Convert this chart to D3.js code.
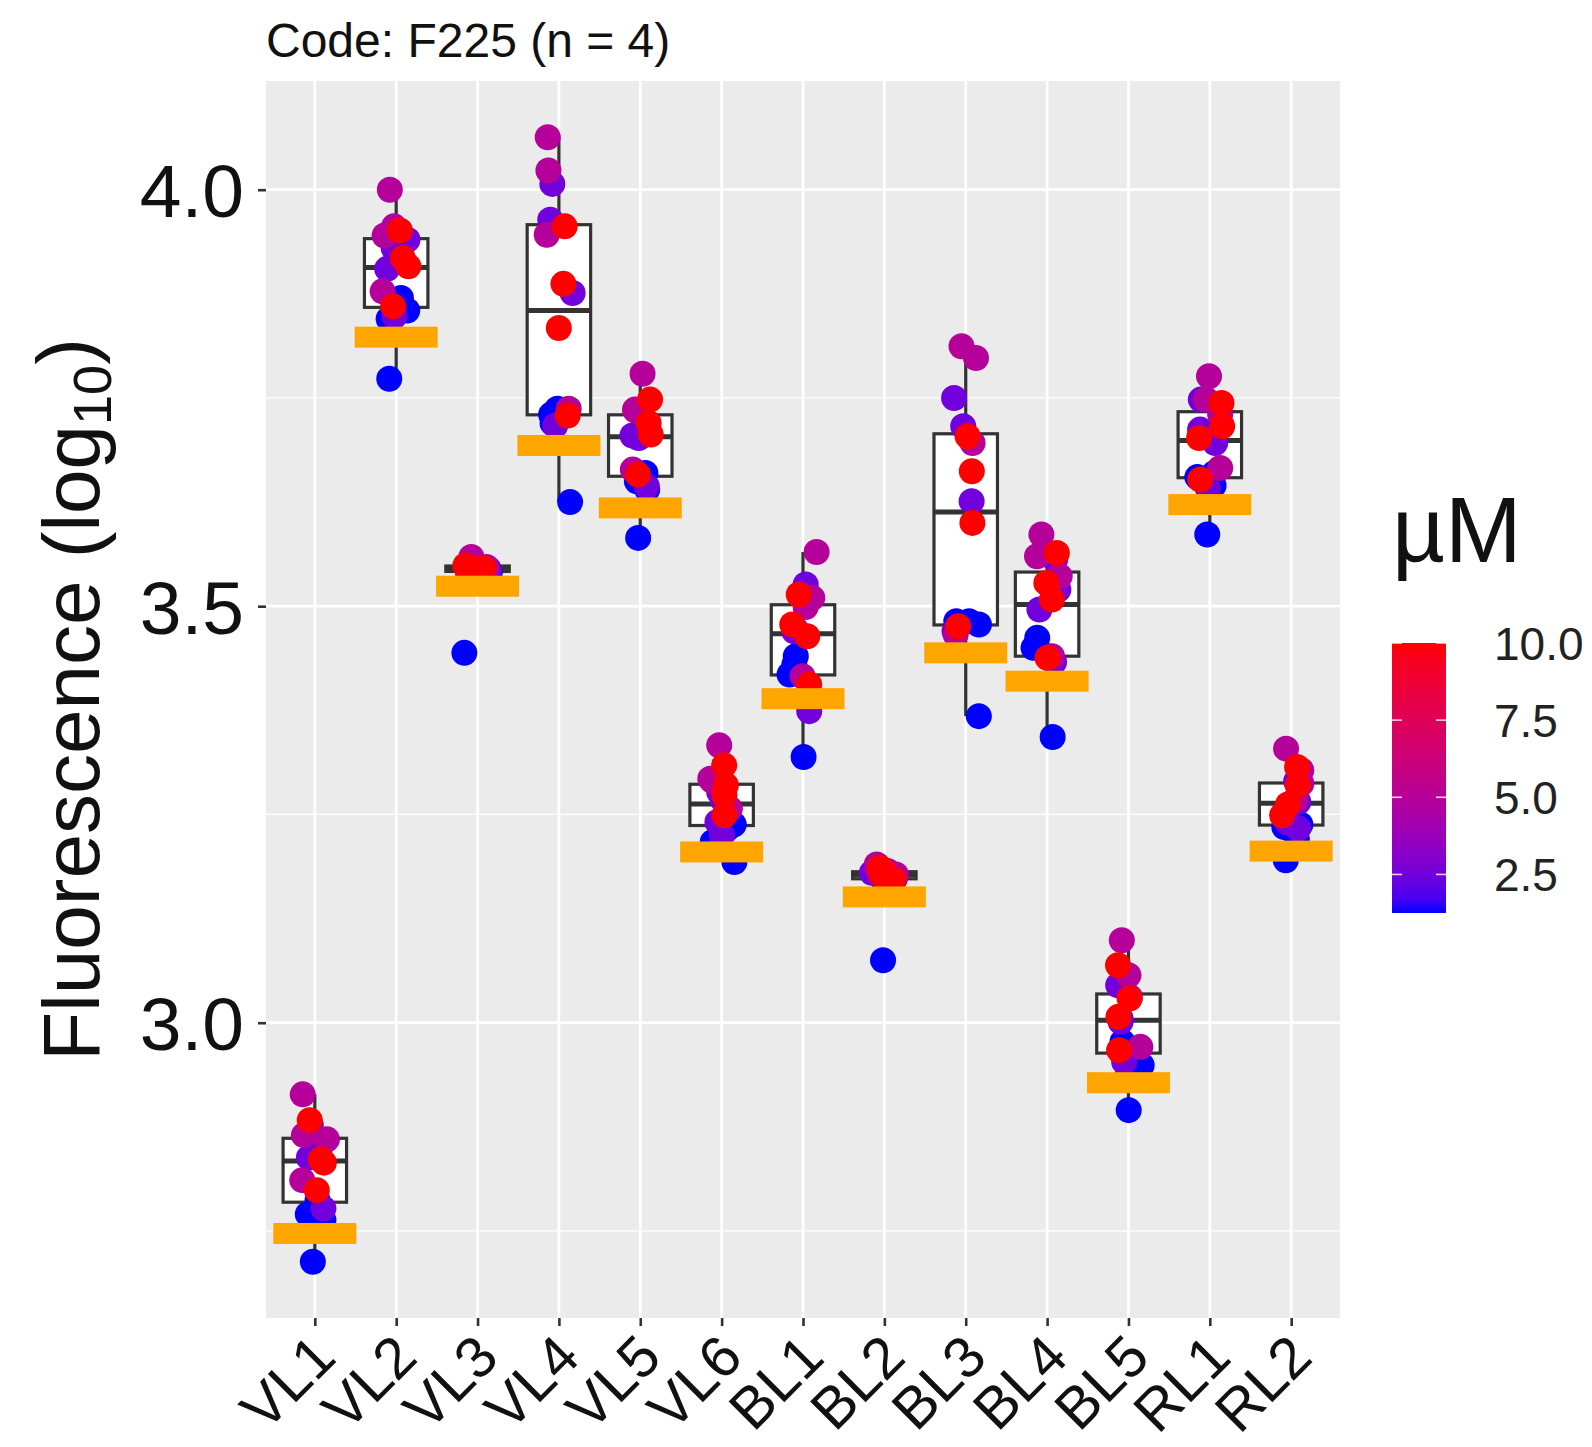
<!DOCTYPE html>
<html>
<head>
<meta charset="utf-8">
<script src="https://cdn.jsdelivr.net/npm/d3@7"></script>
<style>
  html, body { margin: 0; padding: 0; background: #fff; }
  text { font-family: "Liberation Sans", Arial, Helvetica, sans-serif; }
</style>
</head>
<body>
<div id="chart"></div>
<script>
// categories (detector channels) and the four concentrations (µM)
const categories = ["VL1", "VL2", "VL3", "VL4", "VL5", "VL6", "BL1", "BL2", "BL3", "BL4", "BL5", "RL1", "RL2"];
const concLevels = [1.25, 2.5, 5, 10];

// log10 fluorescence, 4 replicates per channel, one array per concentration
const at1_25uM = [
  [2.713, 2.763, 2.770, 2.787], [3.773, 3.845, 3.855, 3.870], [3.444, 3.540, 3.542, 3.545],
  [3.625, 3.720, 3.730, 3.737], [3.582, 3.640, 3.650, 3.660], [3.193, 3.217, 3.233, 3.238],
  [3.319, 3.418, 3.430, 3.440], [3.075, 3.170, 3.172, 3.175], [3.368, 3.478, 3.482, 3.482],
  [3.343, 3.440, 3.450, 3.462], [2.895, 2.935, 2.949, 2.977], [3.586, 3.645, 3.655, 3.660],
  [3.195, 3.220, 3.235, 3.238]
];
const at2_5uM = [
  [2.777, 2.838, 2.845, 2.877], [3.848, 3.905, 3.930, 3.940], [3.541, 3.543, 3.548, 3.550],
  [3.717, 3.876, 3.964, 4.007], [3.644, 3.702, 3.705, 3.728], [3.225, 3.241, 3.268, 3.277],
  [3.374, 3.470, 3.472, 3.526], [3.173, 3.176, 3.178, 3.180], [3.470, 3.626, 3.716, 3.750],
  [3.433, 3.496, 3.520, 3.556], [2.953, 3.001, 3.005, 3.045], [3.642, 3.696, 3.712, 3.748],
  [3.233, 3.240, 3.265, 3.290]
];
const at5uM = [
  [2.811, 2.860, 2.865, 2.914], [3.878, 3.945, 3.956, 4.000], [3.545, 3.547, 3.552, 3.559],
  [3.737, 3.946, 4.023, 4.063], [3.664, 3.735, 3.736, 3.779], [3.257, 3.290, 3.293, 3.333],
  [3.416, 3.499, 3.510, 3.565], [3.178, 3.182, 3.185, 3.190], [3.466, 3.696, 3.798, 3.812],
  [3.440, 3.536, 3.560, 3.586], [2.971, 3.031, 3.057, 3.099], [3.666, 3.730, 3.748, 3.776],
  [3.268, 3.287, 3.303, 3.329]
];
const at10uM = [
  [2.799, 2.832, 2.836, 2.883], [3.860, 3.908, 3.918, 3.951], [3.540, 3.544, 3.546, 3.549],
  [3.729, 3.834, 3.887, 3.956], [3.658, 3.706, 3.720, 3.748], [3.249, 3.273, 3.285, 3.309],
  [3.406, 3.464, 3.478, 3.514], [3.172, 3.177, 3.181, 3.186], [3.476, 3.600, 3.662, 3.704],
  [3.438, 3.508, 3.528, 3.564], [2.967, 3.007, 3.029, 3.069], [3.652, 3.702, 3.716, 3.744],
  [3.249, 3.262, 3.285, 3.307]
];
// orange reference level per channel
const referenceLevel = [2.747, 3.823, 3.524, 3.693, 3.618, 3.205, 3.389, 3.151, 3.444, 3.410, 2.928, 3.622, 3.206];

const yTicks = [3.0, 3.5, 4.0];
const yMinor = [2.75, 3.25, 3.75];
const legendTicks = [2.5, 5.0, 7.5, 10.0];
const titleText = "Code: F225 (n = 4)";

/* svg setup */
const width = 1592, height = 1447;
const margin = { top: 81, right: 252, bottom: 129, left: 266 };
const plotW = width - margin.left - margin.right;
const plotH = height - margin.top - margin.bottom;

const svg = d3.select("#chart").append("svg")
  .attr("width", width)
  .attr("height", height);

svg.append("rect").attr("width", width).attr("height", height).attr("fill", "#fff");

const g = svg.append("g").attr("transform", `translate(${margin.left},${margin.top})`);

// long table
const bySeries = [at1_25uM, at2_5uM, at5uM, at10uM];
const points = [];
bySeries.forEach((series, ci) => {
  series.forEach((reps, k) => {
    reps.forEach(v => points.push({ cat: categories[k], conc: concLevels[ci], value: v }));
  });
});

/*
 * scales
 */
const x = d3.scalePoint().domain(categories).range([0, plotW]).padding(0.6);
const step = x.step();

const allVals = points.map(d => d.value);
const lo = d3.min(allVals), hi = d3.max(allVals);
const pad = (hi - lo) * 0.05;
const y = d3.scaleLinear().domain([lo - pad, hi + pad]).range([plotH, 0]);

const color = d3.scaleLinear()
  .domain(d3.extent(concLevels))
  .range(["blue", "red"])
  .interpolate(d3.interpolateLab);

/* panel + grid */
g.append("rect").attr("width", plotW).attr("height", plotH).attr("fill", "#EBEBEB");

g.selectAll(".minor").data(yMinor).join("line")
  .attr("x1", 0).attr("x2", plotW)
  .attr("y1", d => y(d)).attr("y2", d => y(d))
  .attr("stroke", "#fff").attr("stroke-width", 1.3);

g.selectAll(".major-y").data(yTicks).join("line")
  .attr("x1", 0).attr("x2", plotW)
  .attr("y1", d => y(d)).attr("y2", d => y(d))
  .attr("stroke", "#fff").attr("stroke-width", 2.7);

g.selectAll(".major-x").data(categories).join("line")
  .attr("x1", d => x(d)).attr("x2", d => x(d))
  .attr("y1", 0).attr("y2", plotH)
  .attr("stroke", "#fff").attr("stroke-width", 2.7);

/* boxplots */
const boxW = step * 0.78;
const stats = categories.map(cat => {
  const vals = points.filter(p => p.cat === cat).map(p => p.value).sort(d3.ascending);
  const q1 = d3.quantile(vals, 0.25), med = d3.quantile(vals, 0.5), q3 = d3.quantile(vals, 0.75);
  const iqr = q3 - q1;
  const lowW = d3.min(vals.filter(v => v >= q1 - 1.5 * iqr));
  const highW = d3.max(vals.filter(v => v <= q3 + 1.5 * iqr));
  return { cat, q1, med, q3, lowW, highW };
});

const boxes = g.selectAll(".box").data(stats).join("g");
boxes.append("line")
  .attr("x1", d => x(d.cat)).attr("x2", d => x(d.cat))
  .attr("y1", d => y(d.highW)).attr("y2", d => y(d.q3))
  .attr("stroke", "#333").attr("stroke-width", 3.2);
boxes.append("line")
  .attr("x1", d => x(d.cat)).attr("x2", d => x(d.cat))
  .attr("y1", d => y(d.q1)).attr("y2", d => y(d.lowW))
  .attr("stroke", "#333").attr("stroke-width", 3.2);
boxes.append("rect")
  .attr("x", d => x(d.cat) - boxW / 2).attr("width", boxW)
  .attr("y", d => y(d.q3)).attr("height", d => y(d.q1) - y(d.q3))
  .attr("fill", "#fff").attr("stroke", "#333").attr("stroke-width", 3.2);
boxes.append("line")
  .attr("x1", d => x(d.cat) - boxW / 2).attr("x2", d => x(d.cat) + boxW / 2)
  .attr("y1", d => y(d.med)).attr("y2", d => y(d.med))
  .attr("stroke", "#333").attr("stroke-width", 5);

/* jittered points */
const rnd = d3.randomUniform.source(d3.randomLcg(0.4217))(-0.17, 0.17);
g.selectAll(".pt").data(points).join("circle")
  .attr("cx", d => x(d.cat) + rnd() * step)
  .attr("cy", d => y(d.value))
  .attr("r", 13)
  .attr("fill", d => color(d.conc));

/* reference bars */
const refH = 21;
g.selectAll(".ref").data(referenceLevel).join("rect")
  .attr("x", (d, i) => x(categories[i]) - step * 0.51)
  .attr("width", step * 1.02)
  .attr("y", d => y(d) - refH / 2)
  .attr("height", refH)
  .attr("fill", "#FFA500");

/* axes */
const yAxis = g.append("g")
  .call(d3.axisLeft(y).tickValues(yTicks).tickFormat(d3.format(".1f")).tickSize(8).tickPadding(14));
yAxis.select(".domain").remove();
yAxis.selectAll(".tick line").attr("stroke", "#333").attr("stroke-width", 2.6);
yAxis.selectAll(".tick text")
  .attr("fill", "#111").style("font-size", "75px")
  .attr("dy", "0.36em");

const xAxis = g.append("g")
  .attr("transform", `translate(0,${plotH})`)
  .call(d3.axisBottom(x).tickSize(8).tickPadding(10));
xAxis.select(".domain").remove();
xAxis.selectAll(".tick line").attr("stroke", "#333").attr("stroke-width", 2.6);
xAxis.selectAll(".tick text")
  .attr("fill", "#111").style("font-size", "58px")
  .attr("text-anchor", "end")
  .attr("y", 0).attr("dy", 0)
  .attr("transform", "translate(23,42) rotate(-45)");

/* titles */
svg.append("text")
  .attr("x", margin.left).attr("y", 57)
  .style("font-size", "48px").attr("fill", "#111")
  .text(titleText);

const yTitle = svg.append("text")
  .attr("transform", `translate(99,${margin.top + plotH / 2}) rotate(-90)`)
  .attr("text-anchor", "middle")
  .style("font-size", "80px").attr("fill", "#111");
yTitle.append("tspan").text("Fluorescence (log");
yTitle.append("tspan").attr("dy", "0.22em").style("font-size", "54px").text("10");
yTitle.append("tspan").attr("dy", "-0.22em").text(")");

/* colour bar legend */
const legX = 1392, legW = 54;
const cy = d3.scaleLinear().domain(d3.extent(concLevels)).range([913, 643]);

const grad = svg.append("defs").append("linearGradient")
  .attr("id", "cbar").attr("x1", 0).attr("x2", 0).attr("y1", 1).attr("y2", 0);
d3.range(0, 1.0001, 0.05).forEach(t => {
  grad.append("stop").attr("offset", t)
    .attr("stop-color", color(concLevels[0] + t * (concLevels[3] - concLevels[0])));
});

svg.append("text")
  .attr("x", legX).attr("y", 562)
  .style("font-size", "92px").attr("fill", "#111")
  .text("µM");

svg.append("rect")
  .attr("x", legX).attr("y", cy(10)).attr("width", legW).attr("height", cy(1.25) - cy(10))
  .attr("fill", "url(#cbar)");

const legTick = svg.append("g").selectAll("g").data(legendTicks).join("g");
legTick.append("line")
  .attr("x1", legX).attr("x2", legX + 10)
  .attr("y1", d => cy(d)).attr("y2", d => cy(d))
  .attr("stroke", "#fff").attr("stroke-width", 1.6).attr("stroke-opacity", 0.8);
legTick.append("line")
  .attr("x1", legX + legW - 10).attr("x2", legX + legW)
  .attr("y1", d => cy(d)).attr("y2", d => cy(d))
  .attr("stroke", "#fff").attr("stroke-width", 1.6).attr("stroke-opacity", 0.8);
legTick.append("text")
  .attr("x", legX + legW + 48).attr("y", d => cy(d)).attr("dy", "0.36em")
  .style("font-size", "46px").attr("fill", "#222")
  .text(d => d3.format(".1f")(d));
</script>
</body>
</html>
